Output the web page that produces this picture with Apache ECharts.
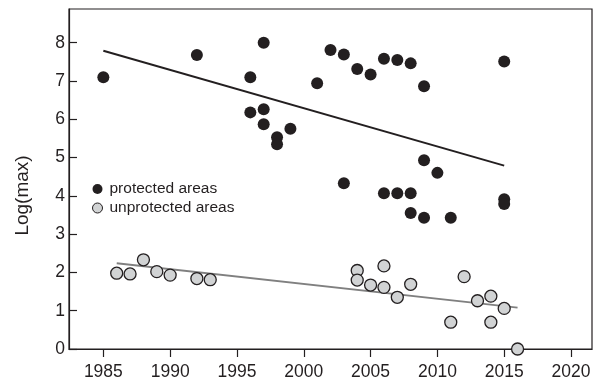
<!DOCTYPE html>
<html>
<head>
<meta charset="utf-8">
<script src="https://cdn.jsdelivr.net/npm/echarts@6/dist/echarts.min.js"></script>
<style>html,body{margin:0;padding:0;background:#fff;}#c{width:603px;height:383px;}</style>
</head>
<body>
<div id="c"></div>
<script>
// Data
const protectedYears = [1985, 1992, 1996, 1997, 1996, 1997, 1997, 1998, 1998, 1999, 2001, 2002, 2003, 2004, 2005, 2006, 2007, 2008, 2009, 2015, 2009, 2010, 2003, 2006, 2007, 2008, 2015, 2015, 2008, 2009, 2011];
const protectedValues = [7.10, 7.68, 7.10, 8.00, 6.18, 6.26, 5.87, 5.53, 5.35, 5.75, 6.94, 7.81, 7.69, 7.31, 7.17, 7.58, 7.55, 7.46, 6.86, 7.51, 4.93, 4.60, 4.33, 4.07, 4.07, 4.07, 3.91, 3.79, 3.55, 3.43, 3.43];
const unprotectedYears = [1986, 1987, 1988, 1989, 1990, 1992, 1993, 2004, 2004, 2005, 2006, 2006, 2007, 2008, 2011, 2012, 2013, 2014, 2014, 2015, 2016];
const unprotectedValues = [1.98, 1.96, 2.33, 2.02, 1.93, 1.84, 1.81, 2.05, 1.80, 1.67, 2.17, 1.61, 1.35, 1.69, 0.70, 1.89, 1.26, 1.38, 0.70, 1.06, 0.00];
const protectedTrendYears = [1985, 2015];
const protectedTrendValues = [7.79, 4.79];
const unprotectedTrendYears = [1986, 2016];
const unprotectedTrendValues = [2.24, 1.08];
const xTickLabels = [1985, 1990, 1995, 2000, 2005, 2010, 2015, 2020];
const yTickLabels = [0, 1, 2, 3, 4, 5, 6, 7, 8];
const seriesNames = ['protected areas', 'unprotected areas'];
const yAxisTitle = 'Log(max)';

const zip = (a, b) => a.map((v, i) => [v, b[i]]);
const FONT = '"Liberation Sans", Arial, sans-serif';
const INK = '#231f20';

const chart = echarts.init(document.getElementById('c'), null, {renderer: 'canvas'});
chart.setOption({
  backgroundColor: '#ffffff',
  animation: false,
  grid: {
    left: 69, right: 11, top: 9, bottom: 34,
    show: true, borderColor: INK, borderWidth: 1.2, backgroundColor: 'transparent'
  },
  legend: {
    data: [
      {name: seriesNames[0]},
      {name: seriesNames[1], itemStyle: {borderWidth: 1}}
    ],
    orient: 'vertical',
    left: 87, top: 176,
    itemWidth: 10, itemHeight: 10, itemGap: 3,
    icon: 'circle',
    textStyle: {fontFamily: FONT, fontSize: 15.5, color: INK, padding: [0, 0, 0, 2]}
  },
  xAxis: {
    type: 'value',
    min: 1982.43, max: 2021.57,
    axisLine: {show: true, lineStyle: {color: INK, width: 1.2}},
    axisTick: {show: true, inside: false, length: 8, customValues: xTickLabels, lineStyle: {color: INK, width: 1.2}},
    axisLabel: {customValues: xTickLabels, formatter: v => String(v), fontFamily: FONT, fontSize: 17.5, color: INK, margin: 14},
    splitLine: {show: false}
  },
  yAxis: {
    type: 'value',
    min: 0, max: 8.88,
    name: yAxisTitle,
    nameLocation: 'middle',
    nameGap: 37,
    nameTextStyle: {fontFamily: FONT, fontSize: 19, color: INK, padding: [0, 33, 0, 0]},
    axisLine: {show: true, lineStyle: {color: INK, width: 1.2}},
    axisTick: {show: true, inside: true, length: 8, customValues: yTickLabels, lineStyle: {color: INK, width: 1.2}},
    axisLabel: {customValues: yTickLabels, formatter: v => String(v), fontFamily: FONT, fontSize: 17.5, color: INK, margin: 4},
    splitLine: {show: false}
  },
  series: [
    {
      name: 'protected trend', type: 'line', data: zip(protectedTrendYears, protectedTrendValues),
      showSymbol: false, lineStyle: {color: INK, width: 2}, z: 1, silent: true
    },
    {
      name: 'unprotected trend', type: 'line', data: zip(unprotectedTrendYears, unprotectedTrendValues),
      showSymbol: false, lineStyle: {color: '#808080', width: 1.8}, z: 1, silent: true
    },
    {
      name: seriesNames[0], type: 'scatter', data: zip(protectedYears, protectedValues),
      symbolSize: 12, itemStyle: {color: INK, opacity: 1}, z: 3
    },
    {
      name: seriesNames[1], type: 'scatter', data: zip(unprotectedYears, unprotectedValues),
      symbolSize: 12, itemStyle: {color: '#d1d3d4', borderColor: INK, borderWidth: 1.3, opacity: 1}, z: 3
    }
  ]
});
</script>
</body>
</html>
